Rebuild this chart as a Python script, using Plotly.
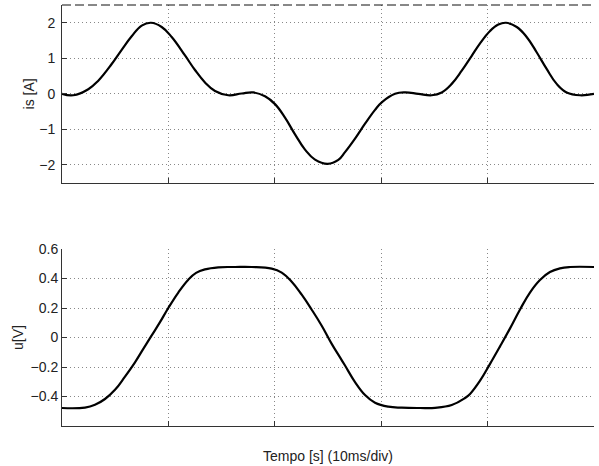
import plotly.graph_objects as go
from plotly.subplots import make_subplots

# time in ms (10 ms per division)
t_is = [0.0, 1.06, 2.47, 3.41, 4.67, 5.61, 6.55, 7.49, 8.36, 9.37, 10.31, 11.56, 12.5,
        13.44, 14.38, 15.63, 16.89, 17.98, 19.08, 20.02, 20.96, 21.90, 22.84, 23.78,
        24.97, 25.97, 26.60, 27.54, 28.48, 29.42, 30.05, 31.30, 32.24, 33.49, 34.75,
        35.69, 36.63, 37.57, 38.51, 39.29, 40.23, 41.01, 41.73, 42.74, 43.67, 44.61,
        45.55, 46.49, 47.43, 48.68, 50.0]
is_vals = [0.00, -0.04, 0.13, 0.37, 0.84, 1.24, 1.62, 1.92, 2.00, 1.88, 1.60, 1.08, 0.67,
           0.32, 0.08, -0.04, 0.01, 0.04, -0.07, -0.29, -0.67, -1.14, -1.57, -1.85,
           -1.97, -1.86, -1.64, -1.26, -0.84, -0.45, -0.24, 0.00, 0.04, 0.00, -0.04,
           0.04, 0.28, 0.65, 1.07, 1.42, 1.77, 1.95, 2.00, 1.88, 1.60, 1.17,
           0.70, 0.28, 0.04, -0.04, 0.00]

t_u = [0.0, 2.16, 3.10, 4.04, 4.98, 5.92, 6.86, 7.64, 8.43, 9.21, 9.99, 10.93, 11.87,
       12.6, 13.44, 14.69, 16.26, 17.83, 19.71, 20.65, 21.59, 22.53, 23.46, 24.41,
       25.35, 26.13, 26.60, 27.54, 28.48, 29.42, 30.67, 31.93, 33.65, 35.06, 36.63,
       37.88, 38.35, 39.29, 40.23, 41.17, 42.11, 43.05, 43.98, 44.92, 45.86, 46.80,
       47.74, 50.0]
u_vals = [-0.478, -0.475, -0.456, -0.417, -0.355, -0.265, -0.168, -0.077, 0.014, 0.104,
          0.200, 0.305, 0.392, 0.438, 0.462, 0.476, 0.478, 0.478, 0.467, 0.44, 0.378,
          0.290, 0.190, 0.080, -0.043, -0.135, -0.19, -0.302, -0.390, -0.442, -0.469,
          -0.476, -0.478, -0.477, -0.458, -0.410, -0.383, -0.293, -0.179, -0.060, 0.062,
          0.190, 0.305, 0.390, 0.444, 0.469, 0.478, 0.478]

x_ticks = [0, 10, 20, 30, 40, 50]
is_ticks = [-2, -1, 0, 1, 2]
u_ticks = [-0.4, -0.2, 0, 0.2, 0.4, 0.6]

fig = make_subplots(rows=2, cols=1, vertical_spacing=0.0)

line_style = dict(color="black", width=2.2, shape="spline", smoothing=1.2)
fig.add_trace(go.Scatter(x=t_is, y=is_vals, mode="lines", line=line_style,
                         showlegend=False), row=1, col=1)
fig.add_trace(go.Scatter(x=t_u, y=u_vals, mode="lines", line=line_style,
                         showlegend=False), row=2, col=1)

font = dict(family="Liberation Sans, Arial, sans-serif", size=14, color="#222")

grid = dict(showgrid=True, gridcolor="#888", griddash="1px,3px", gridwidth=1)
xcommon = dict(range=[0, 50], tickvals=x_ticks, showticklabels=False,
               ticks="inside", ticklen=5, tickcolor="#333",
               showline=True, linecolor="#333", linewidth=1, zeroline=False, **grid)
ycommon = dict(ticks="inside", ticklen=5, tickcolor="#333", automargin=False,
               showline=True, linecolor="#333", linewidth=1, zeroline=False,
               tickfont=font, **grid)

fig.update_layout(
    width=599, height=466,
    margin=dict(l=62, r=5, t=5, b=40),
    paper_bgcolor="white", plot_bgcolor="white",
    font=font,
    xaxis=dict(domain=[0, 1], **xcommon),
    yaxis=dict(domain=[0.578, 1.0], range=[-2.5, 2.5], tickvals=is_ticks,
               ticklabelstandoff=3,
               title=dict(text="is [A]", font=font, standoff=1), **ycommon),
    xaxis2=dict(domain=[0, 1], automargin=False,
                title=dict(text="Tempo [s] (10ms/div)", font=font, standoff=25), **xcommon),
    yaxis2=dict(domain=[0.0, 0.4204], range=[-0.6, 0.6], tickvals=u_ticks,
                ticklabelstandoff=0,
                title=dict(text="u[V]", font=font, standoff=3), **ycommon),
    shapes=[dict(type="line", xref="x domain", yref="y domain", x0=0, x1=1, y0=1, y1=1,
                 line=dict(color="#111", width=1, dash="9px,4px"))],
)

fig.write_html("out.html", config={"displayModeBar": False},
               post_script="document.body.style.margin='0px';")
